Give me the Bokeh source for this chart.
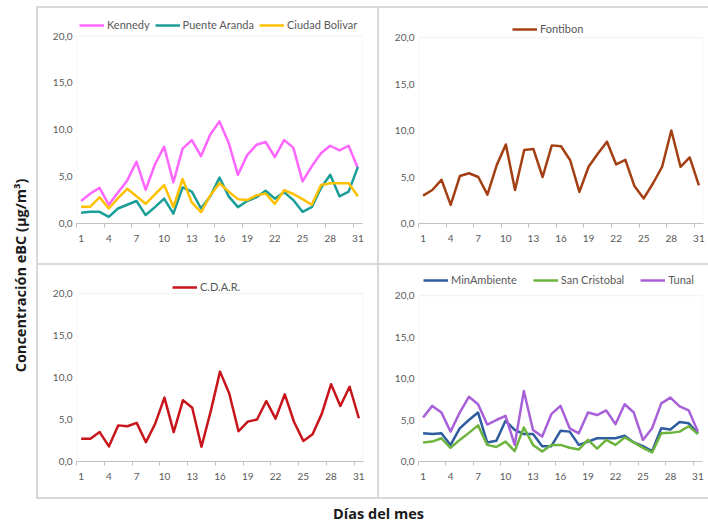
import math
from bokeh.plotting import figure
from bokeh.layouts import row, column
from bokeh.models import Range1d, FixedTicker, Legend, LegendItem, BoxAnnotation
from bokeh.embed import file_html
from bokeh.resources import INLINE
from bokeh.core.properties import value

# ---------------- data ----------------
days = list(range(1, 32))
x_ticks = [1, 4, 7, 10, 13, 16, 19, 22, 25, 28, 31]
x_tick_labels = [str(t) for t in x_ticks]
y_ticks = [0, 5, 10, 15, 20]
y_tick_labels = ["0,0", "5,0", "10,0", "15,0", "20,0"]
y_max = 20

kennedy = [2.4, 3.2, 3.8, 2.0, 3.3, 4.6, 6.6, 3.6, 6.3, 8.2, 4.4, 8.0, 8.9, 7.2, 9.5, 10.9,
           8.6, 5.2, 7.3, 8.4, 8.7, 7.1, 8.9, 8.1, 4.5, 6.1, 7.5, 8.3, 7.8, 8.3, 5.9]
puente_aranda = [1.15, 1.25, 1.25, 0.7, 1.6, 2.0, 2.4, 0.9, 1.75, 2.65, 1.05, 3.85, 3.4, 1.6, 2.9, 4.9,
                 2.9, 1.75, 2.4, 2.8, 3.5, 2.65, 3.35, 2.5, 1.25, 1.75, 3.8, 5.2, 2.9, 3.4, 6.05]
ciudad_bolivar = [1.8, 1.8, 2.8, 1.6, 2.7, 3.7, 2.9, 2.1, 3.1, 4.1, 1.75, 4.75, 2.25, 1.2, 3.0, 4.3,
                  3.4, 2.6, 2.5, 3.0, 3.2, 2.1, 3.55, 3.15, 2.6, 2.0, 4.1, 4.3, 4.3, 4.3, 2.9]
fontibon = [3.0, 3.6, 4.7, 2.0, 5.1, 5.4, 5.0, 3.1, 6.25, 8.5, 3.6, 7.9, 8.0, 5.0, 8.4, 8.3,
            6.8, 3.4, 6.1, 7.5, 8.8, 6.35, 6.85, 4.0, 2.7, 4.3, 6.1, 10.0, 6.1, 7.1, 4.1]
cdar = [2.7, 2.7, 3.5, 1.8, 4.3, 4.2, 4.6, 2.3, 4.5, 7.6, 3.5, 7.3, 6.4, 1.75, 6.0, 10.7,
        8.1, 3.6, 4.75, 5.0, 7.2, 5.1, 8.0, 4.7, 2.45, 3.25, 5.7, 9.2, 6.6, 8.9, 5.15]
minambiente = [3.4, 3.3, 3.4, 2.0, 4.0, 5.0, 5.9, 2.3, 2.5, 4.9, 3.8, 3.3, 3.3, 1.85, 1.85, 3.7,
               3.6, 2.0, 2.4, 2.8, 2.8, 2.8, 3.1, 2.3, 1.85, 1.25, 4.0, 3.85, 4.75, 4.6, 3.4]
san_cristobal = [2.3, 2.4, 2.8, 1.65, 2.6, 3.45, 4.35, 2.0, 1.75, 2.4, 1.25, 4.1, 2.0, 1.2, 2.0, 2.0,
                 1.65, 1.45, 2.6, 1.55, 2.6, 2.0, 2.9, 2.3, 1.65, 1.1, 3.4, 3.45, 3.6, 4.25, 3.3]
tunal = [5.3, 6.7, 5.9, 3.6, 5.9, 7.8, 6.9, 4.45, 5.0, 5.5, 2.0, 8.5, 3.8, 3.0, 5.7, 6.7,
         4.0, 3.4, 5.9, 5.6, 6.15, 4.5, 6.9, 5.9, 2.6, 4.0, 7.0, 7.7, 6.65, 6.15, 3.6]

y_title = "Concentración eBC (µg/m³)"
x_title = "Días del mes"

FONT = "Lato"
TITLE_FONT = "Open Sans"
LINE = "#d9d9d9"


def panel(w, h, left, right, top, bottom, box_offset, series, legend_loc, spacing, shadow):
    frame_h = h - top - bottom
    y_top = y_max * frame_h / (frame_h - box_offset)
    p = figure(width=w, height=h, x_range=Range1d(0.5, 31.5), y_range=Range1d(0, y_top),
               output_backend="svg", toolbar_location=None,
               min_border_left=left, min_border_right=right,
               min_border_top=top, min_border_bottom=bottom)
    p.border_fill_color = None
    p.background_fill_color = None
    p.outline_line_color = None
    p.grid.visible = False
    p.styles = {"box-shadow": shadow}

    p.add_layout(BoxAnnotation(left=0.5, right=31.5, bottom=0, top=y_max,
                               fill_color=None, fill_alpha=0,
                               line_color=LINE, line_width=1.5))

    ya = p.yaxis[0]
    ya.ticker = FixedTicker(ticks=y_ticks)
    ya.major_label_overrides = dict(zip(y_ticks, y_tick_labels))
    ya.axis_line_color = None
    ya.major_tick_line_color = None
    ya.minor_tick_line_color = None
    ya.major_tick_out = 0
    ya.major_label_standoff = 4
    ya.major_label_text_font = FONT
    ya.major_label_text_font_size = "10px"
    ya.major_label_text_color = "#595959"

    xa = p.xaxis[0]
    xa.ticker = FixedTicker(ticks=x_ticks, minor_ticks=[t - 0.5 for t in x_ticks])
    xa.major_label_overrides = dict(zip(x_ticks, x_tick_labels))
    xa.axis_line_color = "#bfbfbf"
    xa.major_tick_line_color = None
    xa.major_tick_out = 4
    xa.major_tick_in = 0
    xa.minor_tick_line_color = "#bfbfbf"
    xa.minor_tick_out = 4
    xa.minor_tick_in = 0
    xa.major_label_standoff = 7
    xa.major_label_text_font = FONT
    xa.major_label_text_font_size = "10px"
    xa.major_label_text_color = "#595959"

    items = []
    for name, vals, color in series:
        r = p.line(days, vals, line_color=color, line_width=2.5, line_join="round")
        items.append(LegendItem(label=name, renderers=[r]))
    lg = Legend(items=items, orientation="horizontal", location=legend_loc,
                border_line_color=None, background_fill_alpha=0,
                label_text_font=FONT, label_text_font_size="11px",
                label_text_color="#595959", glyph_width=25, glyph_height=12,
                label_standoff=3, spacing=spacing, padding=2, margin=0,
                label_height=13)
    p.add_layout(lg, "center")
    return p


tl = panel(342, 264, 40, 16, 12, 38, 24,
           [("Kennedy", kennedy, "#FF66FF"),
            ("Puente Aranda", puente_aranda, "#1B9E98"),
            ("Ciudad Bolivar", ciudad_bolivar, "#FFC000")], (3, 192), 5,
           f"inset 0 6px 0 white, inset 0 8px 0 {LINE}, inset 2px 0 0 {LINE}, "
           f"inset -1px 0 0 {LINE}, inset 0 -1px 0 {LINE}")
tr = panel(330, 264, 40, 5, 12, 41, 25,
           [("Fontibon", fontibon, "#A33F12")], (94, 188), 5,
           f"inset 0 6px 0 white, inset 0 8px 0 {LINE}, inset 1px 0 0 {LINE}, "
           f"inset 0 -1px 0 {LINE}")
bl = panel(342, 235, 40, 15, 8, 38, 21,
           [("C.D.A.R.", cdar, "#C8151B")], (96, 168), 5,
           f"inset 2px 0 0 {LINE}, inset 0 1px 0 {LINE}, inset -1px 0 0 {LINE}, "
           f"inset 0 -2px 0 {LINE}")
br = panel(330, 235, 40, 6, 0, 38, 24,
           [("MinAmbiente", minambiente, "#2E5C9E"),
            ("San Cristobal", san_cristobal, "#6DB33F"),
            ("Tunal", tunal, "#A860D8")], (5, 175), 16,
           f"inset 1px 0 0 {LINE}, inset 0 1px 0 {LINE}, inset 0 -2px 0 {LINE}")

# y title strip
yl = figure(width=36, height=499, x_range=Range1d(0, 36), y_range=Range1d(0, 499),
            output_backend="svg", toolbar_location=None, min_border=0)
yl.axis.visible = False
yl.grid.visible = False
yl.outline_line_color = None
yl.text(x=[20], y=[224], text=[y_title], angle=math.pi / 2,
        text_font=value(TITLE_FONT), text_font_style="bold", text_font_size="14.5px",
        text_color="#1a1a1a", text_align="center", text_baseline="middle")

# x title strip
xl = figure(width=708, height=23, x_range=Range1d(0, 708), y_range=Range1d(0, 23),
            output_backend="svg", toolbar_location=None, min_border=0)
xl.axis.visible = False
xl.grid.visible = False
xl.outline_line_color = None
xl.text(x=[378], y=[9], text=[x_title],
        text_font=value(TITLE_FONT), text_font_style="bold", text_font_size="14.5px",
        text_color="#1a1a1a", text_align="center", text_baseline="middle")

layout = column(row(yl, column(row(tl, tr), row(bl, br))), xl)

open("out.html", "w").write(file_html(layout, INLINE))
